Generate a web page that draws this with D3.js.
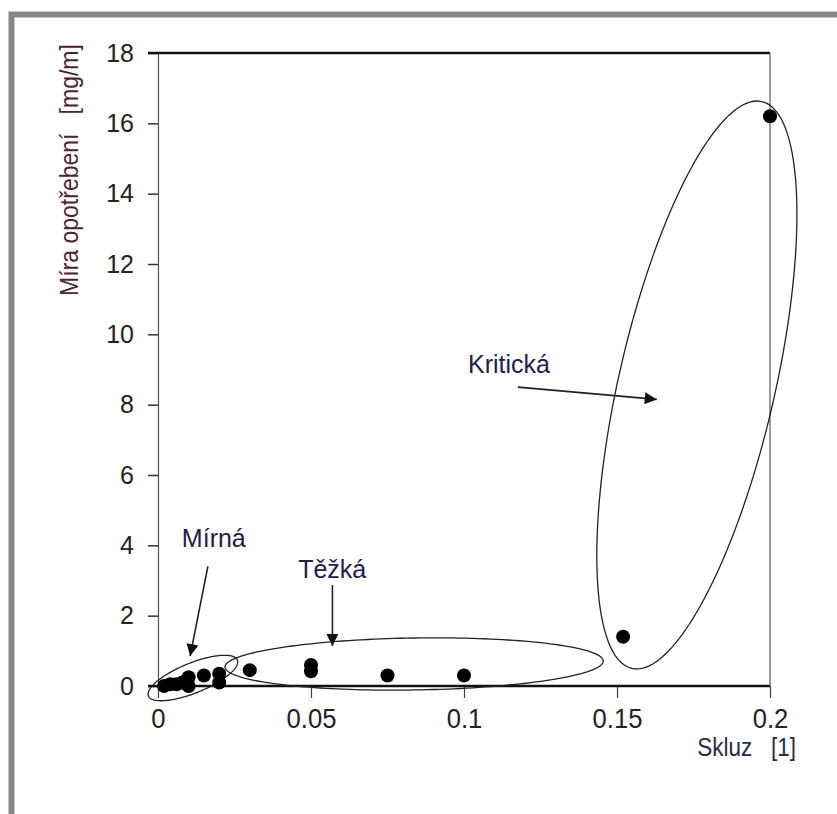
<!DOCTYPE html>
<html>
<head>
<meta charset="utf-8">
<script src="https://cdn.jsdelivr.net/npm/d3@7"></script>
<style>
  body { margin: 0; background: #fff; }
  svg { display: block; }
</style>
</head>
<body>
<svg id="chart"></svg>
<script>
// wear rate vs slip, three regimes

var skluz = [0.002, 0.004, 0.006, 0.008, 0.010, 0.010, 0.015, 0.020, 0.020,
             0.030, 0.050, 0.050, 0.075, 0.100,
             0.152, 0.200];
var mira = [0.0, 0.05, 0.05, 0.1, 0.0, 0.25, 0.3, 0.1, 0.35,
            0.45, 0.6, 0.42, 0.3, 0.3,
            1.4, 16.2];

var xTicks = [0, 0.05, 0.1, 0.15, 0.2];
var yTicks = [0, 2, 4, 6, 8, 10, 12, 14, 16, 18];
var xTickLabels = ["0", "0.05", "0.1", "0.15", "0.2"];

// regime zones: centre and two half-axis vectors, in data units
var zoneNames = ["Mírná", "Těžká", "Kritická"];
var zoneCentres = [[0.0114, 0.227], [0.0837, 0.626], [0.1761, 8.56]];
var zoneAxisA = [[0.01454, 0.512], [0.0618, 0.085], [0.02122, 8.06]];
var zoneAxisB = [[0.00183, -0.395], [0.000134, -0.739], [0.02488, -0.495]];
// label anchor and arrow (from, to) in data units
var labelPos = [[0.0078, 3.95], [0.0458, 3.07], [0.1013, 8.9]];
var arrowFrom = [[0.0163, 3.4], [0.057, 2.87], [0.1176, 8.5]];
var arrowTo = [[0.0105, 0.85], [0.057, 1.14], [0.163, 8.15]];

var width = 837, height = 814;
var svg = d3.select("#chart")
    .attr("width", width)
    .attr("height", height);

var x = d3.scaleLinear().domain([0, 0.2]).range([158, 770]);
var y = d3.scaleLinear().domain([0, 18]).range([686, 53]);

// grey frame round the picture
svg.append("path")
    .attr("d", "M11.5,814 L11.5,14.5 L837,14.5")
    .attr("fill", "none")
    .attr("stroke", "#878787")
    .attr("stroke-width", 6);

var font = "'Liberation Sans', Arial, sans-serif";

// left axis
var yAxis = svg.append("g")
    .attr("transform", "translate(" + x(0) + ",0)")
    .call(d3.axisLeft(y).tickValues(yTicks).tickSize(10).tickPadding(14).tickFormat(d3.format("d")));
yAxis.select(".domain").attr("stroke", "#555").attr("stroke-width", 1.2);
yAxis.selectAll(".tick line").attr("stroke", "#333").attr("stroke-width", 1.5);
yAxis.selectAll("text")
    .attr("font-family", font)
    .attr("font-size", 25)
    .attr("fill", "#222");

// bottom axis
var xAxis = svg.append("g")
    .attr("transform", "translate(0," + y(0) + ")")
    .call(d3.axisBottom(x).tickValues(xTicks).tickSize(12).tickPadding(11)
        .tickFormat(function(d, i) { return xTickLabels[i]; }));
xAxis.select(".domain").remove();
xAxis.selectAll(".tick line").attr("stroke", "#444").attr("stroke-width", 1.2);
xAxis.selectAll("text")
    .attr("font-family", font)
    .attr("font-size", 27)
    .attr("transform", "scale(0.95,1)")
    .attr("fill", "#222");

// box lines
svg.append("line")
    .attr("x1", x(0) - 10).attr("x2", x(0.2))
    .attr("y1", y(0)).attr("y2", y(0))
    .attr("stroke", "#111").attr("stroke-width", 2.4);
svg.append("line")
    .attr("x1", x(0) - 10).attr("x2", x(0.2))
    .attr("y1", y(18)).attr("y2", y(18))
    .attr("stroke", "#111").attr("stroke-width", 2.4);
svg.append("line")
    .attr("x1", x(0.2)).attr("x2", x(0.2))
    .attr("y1", y(18)).attr("y2", y(0))
    .attr("stroke", "#666").attr("stroke-width", 1.3);

// axis titles
svg.append("text")
    .attr("transform", "translate(78,170) rotate(-90) scale(0.92,1)")
    .attr("text-anchor", "middle")
    .attr("font-family", font)
    .attr("font-size", 25)
    .attr("fill", "#4a2630")
    .attr("xml:space", "preserve")
    .text("Míra opotřebení   [mg/m]");

svg.append("text")
    .attr("transform", "translate(796,756) scale(0.9,1)")
    .attr("text-anchor", "end")
    .attr("font-family", font)
    .attr("font-size", 25)
    .attr("fill", "#2a2a48")
    .attr("xml:space", "preserve")
    .text("Skluz   [1]");

// zones
var zone = svg.append("g");
zoneNames.forEach(function(name, i) {
    var pts = d3.range(0, 2 * Math.PI + 0.001, Math.PI / 90).map(function(t) {
        var c = zoneCentres[i], a = zoneAxisA[i], b = zoneAxisB[i];
        return [x(c[0] + a[0] * Math.cos(t) + b[0] * Math.sin(t)),
                y(c[1] + a[1] * Math.cos(t) + b[1] * Math.sin(t))];
    });
    zone.append("path")
        .attr("d", d3.line().curve(d3.curveLinearClosed)(pts))
        .attr("fill", "none")
        .attr("stroke", "#222")
        .attr("stroke-width", 1.3);
});

// points
svg.append("g")
    .selectAll("circle")
    .data(skluz)
    .enter()
    .append("circle")
    .attr("cx", function(d) { return x(d); })
    .attr("cy", function(d, i) { return y(mira[i]); })
    .attr("r", 7)
    .attr("fill", "#000");

// arrows and labels
svg.append("defs").append("marker")
    .attr("id", "head")
    .attr("viewBox", "0 0 10 10")
    .attr("refX", 10).attr("refY", 5)
    .attr("markerWidth", 16).attr("markerHeight", 12)
    .attr("markerUnits", "userSpaceOnUse")
    .attr("orient", "auto")
    .append("path")
    .attr("d", "M0,0 L10,5 L0,10 Z")
    .attr("fill", "#111");

zoneNames.forEach(function(name, i) {
    svg.append("line")
        .attr("x1", x(arrowFrom[i][0])).attr("y1", y(arrowFrom[i][1]))
        .attr("x2", x(arrowTo[i][0])).attr("y2", y(arrowTo[i][1]))
        .attr("stroke", "#222")
        .attr("stroke-width", 1.6)
        .attr("marker-end", "url(#head)");
    svg.append("text")
        .attr("x", x(labelPos[i][0]))
        .attr("y", y(labelPos[i][1]))
        .attr("font-family", font)
        .attr("font-size", 25)
        .attr("fill", "#22204a")
        .text(name);
});
</script>
</body>
</html>
